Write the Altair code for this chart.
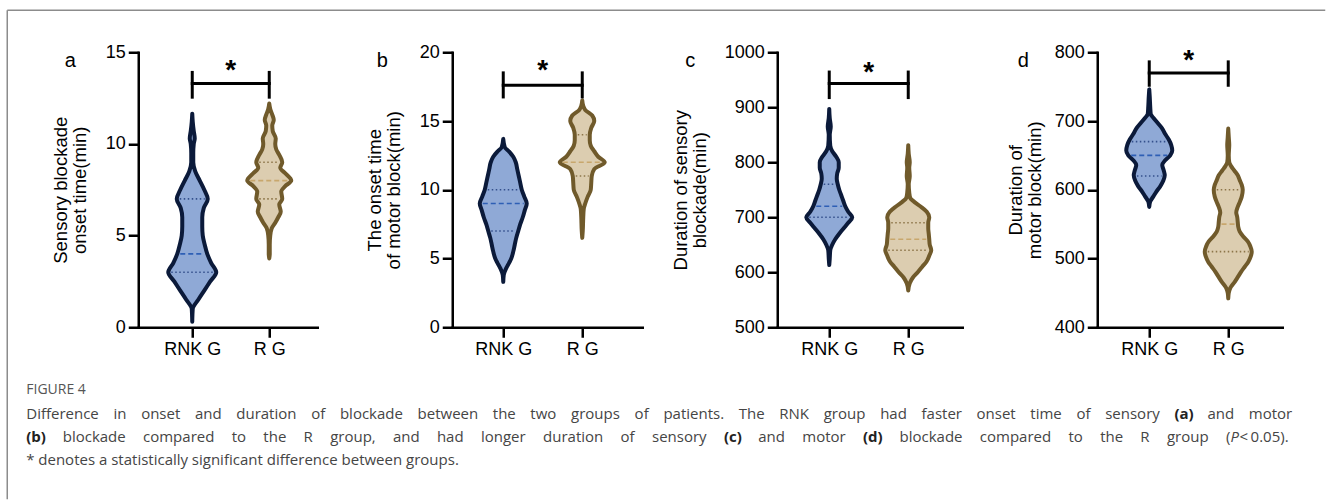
import altair as alt
import numpy as np
import pandas as pd

GROUPS = ["RNK G", "R G"]

# ---------------- panel a : sensory blockade onset time ----------------
a_title = ["Sensory blockade", "onset time(min)"]
a_ticks = [0, 5, 10, 15]
a_rnk_v = [0.3, 1.0, 1.5, 2.0, 2.5, 3.0, 3.5, 4.0, 4.5, 5.0, 5.5, 6.0, 6.5, 7.0, 7.5, 8.0, 8.5, 9.0, 9.5, 10.0, 10.3, 10.7, 11.2, 11.65]
a_rnk_d = [0, 0.5, 6, 12, 18, 24, 19, 15, 12.5, 10.5, 10, 10, 11.5, 15.5, 12, 7.5, 3, 1, 1, 1.5, 2.5, 1.5, 0.5, 0]
a_r_v = [3.75, 4.0, 4.5, 5.0, 5.4, 5.7, 6.0, 6.3, 6.7, 7.0, 7.4, 7.7, 8.0, 8.4, 8.7, 9.0, 9.4, 9.7, 10.0, 10.3, 10.7, 11.0, 11.3, 11.6, 11.9, 12.2]
a_r_d = [0, 0.5, 0.5, 1, 2.5, 6, 9, 11.5, 10, 13, 12, 16, 22, 16, 11, 13, 10, 7, 6, 6.5, 3.5, 3, 4.5, 3, 1, 0]
a_rnk_q = [3, 4, 7]
a_r_q = [7, 8, 9]
a_bracket = [13.3, 12.55, 13.9, 14.3]

# ---------------- panel b : onset time of motor block ----------------
b_title = ["The onset time", "of motor block(min)"]
b_ticks = [0, 5, 10, 15, 20]
b_rnk_v = [3.3, 3.8, 4.3, 4.7, 5.0, 5.5, 6.0, 6.5, 7.0, 7.5, 8.0, 8.5, 9.0, 9.5, 10.0, 10.5, 11.0, 11.5, 12.0, 12.4, 12.8, 13.1, 13.7]
b_rnk_d = [0, 0.5, 3, 6, 8, 10, 11.5, 13, 15, 17, 19.5, 21.5, 23.5, 21, 18.5, 17, 15.5, 14, 12.5, 10, 5.5, 1.5, 0]
b_r_v = [6.5, 7.0, 8.0, 8.6, 9.0, 9.5, 10.0, 10.5, 11.0, 11.5, 12.0, 12.4, 12.8, 13.2, 13.6, 14.0, 14.5, 15.0, 15.4, 15.8, 16.1, 16.5]
b_r_d = [0, 0.5, 1, 1.5, 3, 5.5, 8.5, 9, 9.5, 12, 22.5, 16, 12, 8.5, 7.5, 7.5, 9, 12, 10, 3, 1, 0]
b_rnk_q = [7, 9, 10]
b_r_q = [11, 12, 14]
b_bracket = [17.6, 16.75, 18.5, 19.05]

# ---------------- panel c : duration of sensory blockade ----------------
c_title = ["Duration of sensory", "blockade(min)"]
c_ticks = [500, 600, 700, 800, 900, 1000]
c_rnk_v = [613, 625, 640, 650, 660, 670, 680, 690, 700, 710, 720, 730, 740, 750, 760, 770, 780, 790, 800, 810, 820, 830, 850, 865, 880, 897]
c_rnk_d = [0, 0.5, 1, 3, 6, 10, 14.5, 19, 23, 19, 16, 14, 12, 10, 8.5, 7.5, 8, 9.5, 9.5, 7, 3, 1, 0.5, 1.5, 0.5, 0]
c_r_v = [567, 580, 590, 600, 610, 620, 630, 640, 650, 660, 670, 680, 690, 700, 710, 720, 728, 735, 745, 760, 775, 790, 800, 815, 831]
c_r_d = [0, 1.5, 4.5, 9.5, 14, 18.5, 21, 23, 21.5, 21, 20.5, 20, 20, 21, 18.5, 12, 6, 2, 1, 0.5, 1.5, 1, 1.5, 0.5, 0]
c_rnk_q = [700, 720, 760]
c_r_q = [640, 660, 690]
c_bracket = [943, 917.6, 964, 973]

# ---------------- panel d : duration of motor block ----------------
d_title = ["Duration of", "motor block(min)"]
d_ticks = [400, 500, 600, 700, 800]
d_rnk_v = [575, 583, 590, 597, 605, 613, 621, 628, 636, 643, 650, 657, 665, 673, 681, 689, 697, 704, 710, 720, 735, 746]
d_rnk_d = [0, 1, 4, 7, 11, 14, 15.5, 14.5, 13, 16, 21, 23, 22, 19.5, 16, 13, 8.5, 4.5, 1.5, 1, 0.5, 0]
d_r_v = [442, 450, 457, 466, 474, 481, 488, 495, 503, 510, 518, 525, 532, 539, 546, 553, 560, 567, 575, 582, 590, 600, 607, 614, 621, 628, 634, 640, 650, 665, 677, 689]
d_r_d = [0, 0.5, 2, 6.5, 10, 13, 16.5, 20, 22.5, 23.5, 22, 19.5, 15, 11.5, 10, 9.5, 9, 8, 9.5, 11.5, 13.5, 14.5, 13.5, 11.5, 9.5, 6, 3, 1, 0.5, 1, 0.5, 0]
d_rnk_q = [620, 650, 670]
d_r_q = [510, 550, 600]
d_bracket = [770, 752, 786, 795.6]

CAPTION_HEAD = "FIGURE 4"
CAP_LINES = [
    "Difference in onset and duration of blockade between the two groups of patients. The RNK group had faster onset time of sensory (a) and motor",
    "(b) blockade compared to the R group, and had longer duration of sensory (c) and motor (d) blockade compared to the R group (P\u2009<\u20090.05).",
    "* denotes a statistically significant difference between groups.",
]
CAP_JUSTIFY = [True, True, False]
BOLD_TOKENS = {"(a)", "(b)", "(c)", "(d)"}

# ---------------- styles ----------------
FONT = "Liberation Sans"
CAP_FONT = "Open Sans"
FILL = {"RNK G": "#8fa9d6", "R G": "#dccdb0"}
EDGE = {"RNK G": "#0b1a3a", "R G": "#705a2b"}
MED = {"RNK G": "#2e5fb5", "R G": "#c8a76d"}
QRT = {"RNK G": "#34508c", "R G": "#8c7549"}
H = 275

OPEN_SANS_W = {
    " ": .26, "\u2009": .2, "a": .556, "b": .613, "c": .476, "d": .613, "e": .561, "f": .339, "g": .548,
    "h": .614, "i": .253, "j": .253, "k": .525, "l": .253, "m": .93, "n": .614, "o": .604, "p": .613,
    "q": .613, "r": .408, "s": .477, "t": .353, "u": .614, "v": .501, "w": .778, "x": .524, "y": .502,
    "z": .477, "D": .729, "R": .618, "N": .754, "K": .616, "T": .553, "P": .602, "F": .516, "I": .279,
    "G": .728, "U": .728, "E": .556, "0": .572, "5": .572, "4": .572, "(": .297, ")": .297, ".": .266,
    ",": .244, "<": .572, "*": .545,
}


def panel(letter, title, ticks, width, xdom, prof, quarts, bracket, title_x, letter_x):
    lo, hi = xdom
    ppu = width / (hi - lo)
    rows, mrows, qrows = [], [], []
    for gi, g in enumerate(GROUPS):
        c = gi + 1
        v, d = prof[g]
        for vi, di in zip(v, d):
            rows.append({"g": g, "y": vi, "x": c - di / ppu, "x2": c + di / ppu,
                         "fill": FILL[g], "edge": EDGE[g]})
        q1, med, q3 = quarts[g]
        for q, target, col in ((q1, qrows, QRT[g]), (med, mrows, MED[g]), (q3, qrows, QRT[g])):
            hw = max(float(np.interp(q, v, d)) - 3.0, 1.0)
            target.append({"y": q, "x": c - hw / ppu, "x2": c + hw / ppu, "col": col})
    vdf, mdf, qdf = pd.DataFrame(rows), pd.DataFrame(mrows), pd.DataFrame(qrows)

    ys = alt.Scale(domain=[ticks[0], ticks[-1]], nice=False, zero=False)
    xs = alt.Scale(domain=[lo, hi], nice=False, zero=False)
    yaxis = alt.Axis(values=ticks, format="d", title=title, titleX=title_x, titleY=H / 2,
                     titleLineHeight=19)
    label_expr = f"datum.value == 1 ? '{GROUPS[0]}' : '{GROUPS[1]}'"
    xaxis = alt.Axis(values=[1, 2], labelExpr=label_expr, title=None)

    def X(f):
        return alt.X(f, scale=xs, axis=xaxis, stack=None)

    def Y(f):
        return alt.Y(f, scale=ys, axis=yaxis)

    area = alt.Chart(vdf).mark_area(orient="horizontal", interpolate="monotone", strokeWidth=4,
                                    strokeJoin="round", fillOpacity=1).encode(
        y=Y("y:Q"), x=X("x:Q"), x2="x2:Q",
        fill=alt.Fill("fill:N", scale=None),
        stroke=alt.Stroke("edge:N", scale=None),
        detail="g:N",
    )
    med_l = alt.Chart(mdf).mark_rule(strokeWidth=1.6, strokeDash=[5, 3]).encode(
        y=Y("y:Q"), x=X("x:Q"), x2="x2:Q", stroke=alt.Stroke("col:N", scale=None))
    q_l = alt.Chart(qdf).mark_rule(strokeWidth=1.6, strokeDash=[1.5, 2.5]).encode(
        y=Y("y:Q"), x=X("x:Q"), x2="x2:Q", stroke=alt.Stroke("col:N", scale=None))
    yb, ylo, yhi, ystar = bracket
    bdf = pd.DataFrame({"x": [1, 1, 2], "x2": [2, 1, 2], "y": [yb, ylo, ylo], "y2": [yb, yhi, yhi]})
    br = alt.Chart(bdf).mark_rule(strokeWidth=3, color="black", strokeCap="square").encode(
        x=X("x:Q"), x2="x2:Q", y=Y("y:Q"), y2="y2:Q")
    sdf = pd.DataFrame({"x": [1.5], "y": [ystar], "t": ["*"]})
    star = alt.Chart(sdf).mark_text(font=FONT, fontSize=28, fontWeight="bold", baseline="middle",
                                    dy=6, color="black").encode(
        x=X("x:Q"), y=Y("y:Q"), text="t:N")
    ldf = pd.DataFrame({"t": [letter]})
    let = alt.Chart(ldf).mark_text(font=FONT, fontSize=20, baseline="alphabetic", align="center",
                                   color="black").encode(
        x=alt.value(letter_x), y=alt.value(15), text="t:N")
    return alt.layer(area, med_l, q_l, br, star, let)


def text_w(s, size, bold=False):
    w = sum(OPEN_SANS_W.get(ch, 0.55) for ch in s) * size
    return w * (1.06 if bold else 1.0)


def caption_layers(x0, x1, y_head, y_lines, size):
    rows = []
    for line, just, yy in zip(CAP_LINES, CAP_JUSTIFY, y_lines):
        words = []
        for tok in line.split(" "):
            if tok in BOLD_TOKENS:
                runs = [(tok, "b")]
            elif tok.startswith("(P"):
                runs = [("(", "n"), ("P", "i"), (tok[2:], "n")]
            else:
                runs = [(tok, "n")]
            words.append(runs)
        widths = [sum(text_w(t, size, s == "b") for t, s in runs) for runs in words]
        if just:
            gap = (x1 - x0 - sum(widths)) / (len(words) - 1)
        else:
            gap = text_w(" ", size)
        x = x0
        for runs, w in zip(words, widths):
            xx = x
            for t, s in runs:
                rows.append({"t": t, "px": xx, "py": yy, "s": s})
                xx += text_w(t, size, s == "b")
            x += w + gap
    cdf = pd.DataFrame(rows)
    layers = []
    for s, kw in (("n", {}), ("b", {"fontWeight": "bold", "color": "#222222"}), ("i", {"fontStyle": "italic"})):
        sub = cdf[cdf.s == s]
        base = {"font": CAP_FONT, "fontSize": size, "align": "left", "baseline": "middle", "color": "#454545"}
        base.update(kw)
        layers.append(alt.Chart(sub).mark_text(**base).encode(
            x=alt.X("px:Q", scale=None, axis=None), y=alt.Y("py:Q", scale=None, axis=None), text="t:N"))
    hdf = pd.DataFrame({"t": [CAPTION_HEAD], "px": [x0], "py": [y_head]})
    layers.append(alt.Chart(hdf).mark_text(font=CAP_FONT, fontSize=14, align="left", baseline="middle",
                                           color="#555555").encode(
        x=alt.X("px:Q", scale=None, axis=None), y=alt.Y("py:Q", scale=None, axis=None), text="t:N"))
    return layers


pa = panel("a", a_title, a_ticks, 179, (0.2987, 2.6234),
           {"RNK G": (a_rnk_v, a_rnk_d), "R G": (a_r_v, a_r_d)},
           {"RNK G": a_rnk_q, "R G": a_r_q}, a_bracket, -68, -68)
pb = panel("b", b_title, b_ticks, 190, (0.3544, 2.7595),
           {"RNK G": (b_rnk_v, b_rnk_d), "R G": (b_r_v, b_r_d)},
           {"RNK G": b_rnk_q, "R G": b_r_q}, b_bracket, -68, -70)
pc = panel("c", c_title, c_ticks, 185, (0.3418, 2.6836),
           {"RNK G": (c_rnk_v, c_rnk_d), "R G": (c_r_v, c_r_d)},
           {"RNK G": c_rnk_q, "R G": c_r_q}, c_bracket, -87, -87)
pd_ = panel("d", d_title, d_ticks, 185, (0.3418, 2.6836),
            {"RNK G": (d_rnk_v, d_rnk_d), "R G": (d_r_v, d_r_d)},
            {"RNK G": d_rnk_q, "R G": d_r_q}, d_bracket, -72, -74)

# decoration (frame + caption) drawn in panel a's coordinate frame
frame_df = pd.DataFrame({"k": [0]})
frame_top = alt.Chart(frame_df).mark_rule(color="#8c8c8c", strokeWidth=1.5).encode(
    x=alt.value(-131), x2=alt.value(1187), y=alt.value(-42), y2=alt.value(-42))
frame_left = alt.Chart(frame_df).mark_rule(color="#8c8c8c", strokeWidth=1.5).encode(
    x=alt.value(-131), x2=alt.value(-131), y=alt.value(-42), y2=alt.value(447))
deco = alt.layer(frame_top, frame_left, *caption_layers(-112, 1154, 338, [362, 385, 408], 15))

pa_full = alt.layer(pa, deco).resolve_scale(x="independent", y="independent").properties(width=179, height=H)
pb = pb.properties(width=190, height=H)
pc = pc.properties(width=185, height=H)
pd_ = pd_.properties(width=185, height=H)

chart = alt.hconcat(pa_full, pb, pc, pd_, spacing=135, bounds="flush").properties(
    padding={"left": 6.25, "top": 9.25, "right": 0, "bottom": 0}
).configure_view(stroke=None).configure_axis(
    domainColor="black", domainWidth=2.5, domainCap="square", tickColor="black", tickWidth=2.5,
    tickSize=10, labelFont=FONT, labelFontSize=18, labelColor="black", labelPadding=3,
    titleFont=FONT, titleFontSize=18.5, titleFontWeight="normal", titleColor="black", grid=False,
)

chart.save("out.html", embed_options={"renderer": "svg", "actions": False})
